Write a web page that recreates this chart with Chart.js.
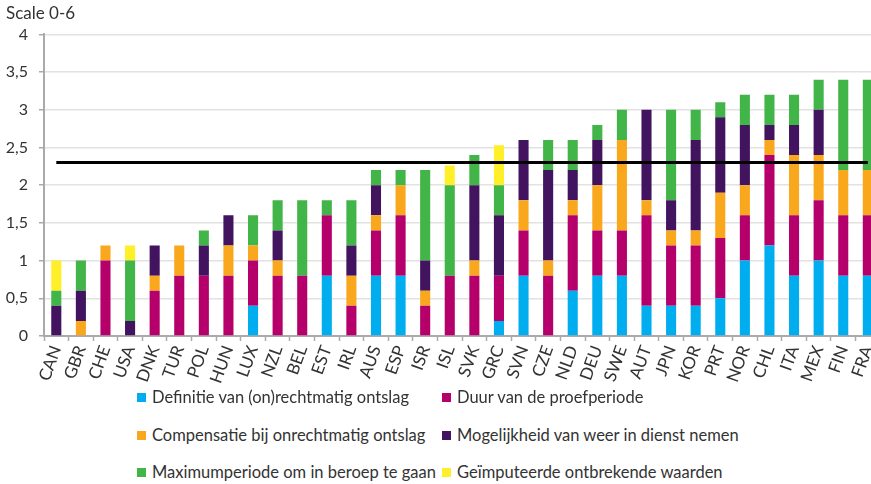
<!DOCTYPE html>
<html>
<head>
<meta charset="utf-8">
<script src="https://cdn.jsdelivr.net/npm/chart.js@4.4.1/dist/chart.umd.min.js"></script>
<style>
  html, body { margin: 0; padding: 0; background: #fff; }
  body { width: 871px; height: 484px; overflow: hidden; position: relative; font-family: Lato, "Open Sans", sans-serif; }
  #wrap { position: absolute; left: 0; top: 0; width: 889px; height: 392px; }
  .lg { position: absolute; font-size: 16.5px; line-height: 20px; color: #333; white-space: nowrap; }
  .lg i { position: absolute; left: -15px; top: 6px; width: 9px; height: 9px; }
</style>
</head>
<body>
<div id="wrap"><canvas id="c"></canvas></div>
<div id="legend"></div>
<script>
const categories = ["CAN","GBR","CHE","USA","DNK","TUR","POL","HUN","LUX","NZL","BEL","EST","IRL","AUS","ESP","ISR","ISL","SVK","GRC","SVN","CZE","NLD","DEU","SWE","AUT","JPN","KOR","PRT","NOR","CHL","ITA","MEX","FIN","FRA"];

const definitie   = [0,0,0,0,0,0,0,0,0.4,0,0,0.8,0,0.8,0.8,0,0,0,0.2,0.8,0,0.6,0.8,0.8,0.4,0.4,0.4,0.5,1.0,1.2,0.8,1.0,0.8,0.8];
const duur        = [0,0,1.0,0,0.6,0.8,0.8,0.8,0.6,0.8,0.8,0.8,0.4,0.6,0.8,0.4,0.8,0.8,0.6,0.6,0.8,1.0,0.6,0.6,1.2,0.8,0.8,0.8,0.6,1.2,0.8,0.8,0.8,0.8];
const compensatie = [0,0.2,0.2,0,0.2,0.4,0,0.4,0.2,0.2,0,0,0.4,0.2,0.4,0.2,0,0.2,0,0.4,0.2,0.2,0.6,1.2,0.2,0.2,0.2,0.6,0.4,0.2,0.8,0.6,0.6,0.6];
const mogelijkheid= [0.4,0.4,0,0.2,0.4,0,0.4,0.4,0,0.4,0,0,0.4,0.4,0,0.4,0,1.0,0.8,0.8,1.2,0.4,0.6,0,1.2,0.4,1.2,1.0,0.8,0.2,0.4,0.6,0,0];
const maximum     = [0.2,0.4,0,0.8,0,0,0.2,0,0.4,0.4,1.0,0.2,0.6,0.2,0.2,1.2,1.2,0.4,0.4,0,0.4,0.4,0.2,0.4,0,1.2,0.4,0.2,0.4,0.4,0.4,0.4,1.2,1.2];
const geimputeerd = [0.4,0,0,0.2,0,0,0,0,0,0,0,0,0,0,0,0,0.26,0,0.53,0,0,0,0,0,0,0,0,0,0,0,0,0,0,0];
const oecdAverage = 2.3;

const seriesNames = ["Definitie van (on)rechtmatig ontslag","Duur van de proefperiode","Compensatie bij onrechtmatig ontslag","Mogelijkheid van weer in dienst nemen","Maximumperiode om in beroep te gaan","Geïmputeerde ontbrekende waarden"];
const seriesColors = ["#00AEEF","#B5006B","#F9A81E","#42145F","#42B549","#FFEF28"];
const seriesData = [definitie, duur, compensatie, mogelijkheid, maximum, geimputeerd];

const FONT = "Lato";
const datasets = seriesData.map((d, i) => ({
  type: 'bar',
  label: seriesNames[i],
  data: d,
  backgroundColor: seriesColors[i],
  borderWidth: 0,
  stack: 'bars',
  order: 1,
  barPercentage: 0.41,
  categoryPercentage: 1.0
}));
datasets.push({
  type: 'line',
  label: 'gemiddelde',
  data: categories.map(() => oecdAverage),
  borderColor: '#000',
  borderWidth: 3,
  pointRadius: 0,
  fill: false,
  stack: 'ref',
  order: 0
});

new Chart(document.getElementById('c'), {
  type: 'bar',
  data: { labels: categories, datasets },
  options: {
    responsive: true,
    maintainAspectRatio: false,
    animation: false,
    layout: { padding: { left: 6, right: 0, top: 0, bottom: 0 } },
    plugins: {
      legend: { display: false },
      tooltip: { enabled: false },
      title: {
        display: true,
        text: 'Scale 0-6',
        align: 'start',
        color: '#333',
        font: { family: FONT, size: 17, weight: 'normal' },
        padding: { top: 3, bottom: 11 }
      }
    },
    scales: {
      x: {
        stacked: true,
        offset: true,
        grid: { offset: true, drawOnChartArea: false, tickLength: 5, tickColor: '#aaa', tickWidth: 1.5 },
        border: { color: '#aaa', width: 2 },
        ticks: {
          color: '#333',
          font: { family: FONT, size: 17 },
          maxRotation: 70, minRotation: 70,
          autoSkip: false,
          padding: 2
        },
        afterFit: (s) => { s.height = 56; }
      },
      y: {
        stacked: true,
        min: 0, max: 4,
        grid: { color: '#e2e2e2', lineWidth: 1.5, tickLength: 5, tickColor: '#aaa' },
        border: { color: '#aaa', width: 2 },
        ticks: {
          stepSize: 0.5,
          color: '#333',
          font: { family: FONT, size: 16 },
          padding: 11,
          callback: (v) => String(v).replace('.', ',')
        },
        afterFit: (s) => { s.width = 38; }
      }
    }
  }
});

// HTML legend in two columns
const legendPos = [[152,387],[457,387],[152,425],[457,425],[152,462],[457,462]];
const lg = document.getElementById('legend');
seriesNames.forEach((name, k) => {
  const d = document.createElement('div');
  d.className = 'lg';
  d.style.left = legendPos[k][0] + 'px';
  d.style.top = legendPos[k][1] + 'px';
  const sq = document.createElement('i');
  sq.style.background = seriesColors[k];
  d.appendChild(sq);
  d.appendChild(document.createTextNode(name));
  lg.appendChild(d);
});
</script>
</body>
</html>
